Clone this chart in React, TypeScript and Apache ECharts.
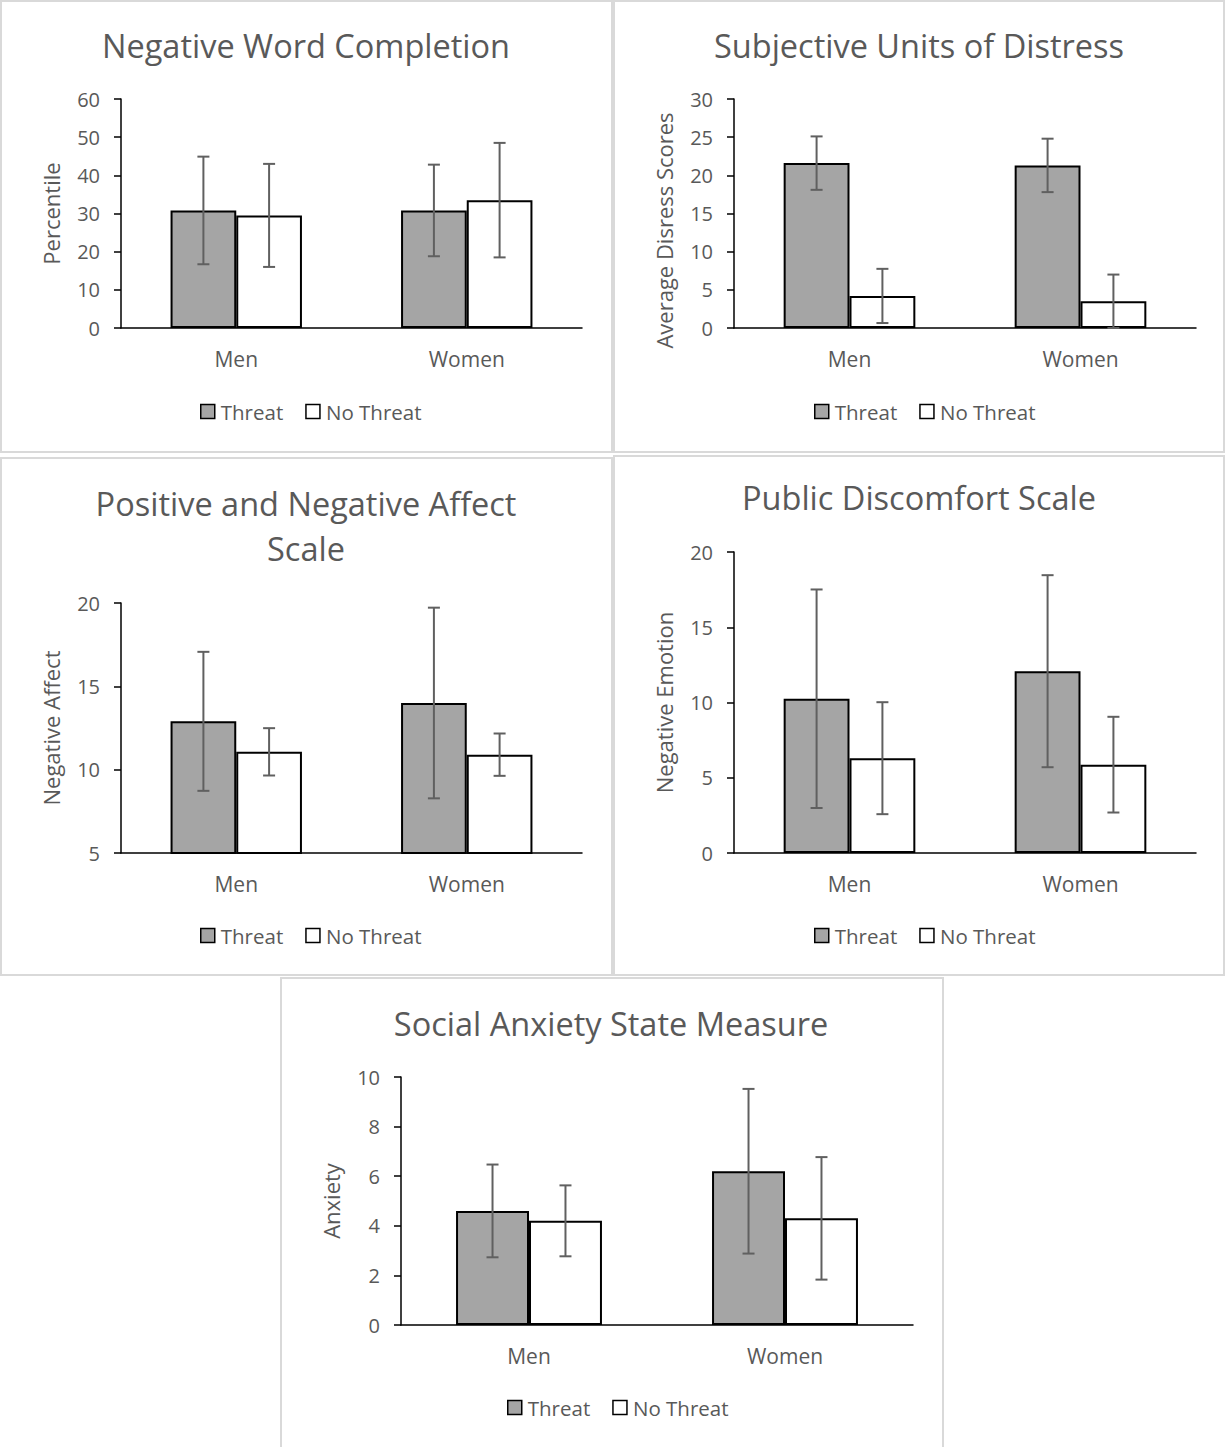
import React, { useEffect, useRef } from "react";
import * as echarts from "echarts";

// ---------- data ----------
const categories = ["Men", "Women"];
const seriesNames = ["Threat", "No Threat"];

const wordTitle = "Negative Word Completion";
const wordAxisName = "Percentile";
const wordThreat = [30.8, 30.8];
const wordThreatErr = [14.1, 12.0];
const wordNoThreat = [29.5, 33.5];
const wordNoThreatErr = [13.5, 15.0];
const wordTicks = { min: 0, max: 60, interval: 10 };

const sudsTitle = "Subjective Units of Distress";
const sudsAxisName = "Average Disress Scores";
const sudsThreat = [21.6, 21.3];
const sudsThreatErr = [3.5, 3.5];
const sudsNoThreat = [4.2, 3.5];
const sudsNoThreatErr = [3.55, 3.5];
const sudsTicks = { min: 0, max: 30, interval: 5 };

const panasTitle = "Positive and Negative Affect\nScale";
const panasAxisName = "Negative Affect";
const panasThreat = [12.9, 14.0];
const panasThreatErr = [4.17, 5.72];
const panasNoThreat = [11.07, 10.9];
const panasNoThreatErr = [1.42, 1.27];
const panasTicks = { min: 5, max: 20, interval: 5 };

const pdsTitle = "Public Discomfort Scale";
const pdsAxisName = "Negative Emotion";
const pdsThreat = [10.25, 12.08];
const pdsThreatErr = [7.26, 6.38];
const pdsNoThreat = [6.3, 5.87];
const pdsNoThreatErr = [3.72, 3.18];
const pdsTicks = { min: 0, max: 20, interval: 5 };

const sasmTitle = "Social Anxiety State Measure";
const sasmAxisName = "Anxiety";
const sasmThreat = [4.6, 6.2];
const sasmThreatErr = [1.87, 3.32];
const sasmNoThreat = [4.2, 4.3];
const sasmNoThreatErr = [1.43, 2.47];
const sasmTicks = { min: 0, max: 10, interval: 2 };

// ---------- layout / style ----------
const FONT = "Open Sans";
const TEXT = "#595959";
const THREAT_FILL = "#a5a5a5";
const NOTHREAT_FILL = "#ffffff";
const ERR_COLOR = "#606060";
const GAP = 0.43;

const panels = [
  {
    title: wordTitle, axisName: wordAxisName, ticks: wordTicks,
    threat: wordThreat, threatErr: wordThreatErr, noThreat: wordNoThreat, noThreatErr: wordNoThreatErr,
    box: [1, 1, 611, 451], titleX: 306, titleY: 45, namePad: [0, 0, 0, 0],
    grid: { left: 121, top: 99, width: 461, height: 229 }, legendLeft: 200, legendY: 413,
  },
  {
    title: sudsTitle, axisName: sudsAxisName, ticks: sudsTicks,
    threat: sudsThreat, threatErr: sudsThreatErr, noThreat: sudsNoThreat, noThreatErr: sudsNoThreatErr,
    box: [614, 1, 610, 451], titleX: 919, titleY: 45, namePad: [0, 34, 0, 0],
    grid: { left: 734, top: 99, width: 462, height: 229 }, legendLeft: 814, legendY: 413,
  },
  {
    title: panasTitle, axisName: panasAxisName, ticks: panasTicks,
    threat: panasThreat, threatErr: panasThreatErr, noThreat: panasNoThreat, noThreatErr: panasNoThreatErr,
    box: [1, 458, 611, 517], titleX: 306, titleY: 526, namePad: [0, 0, 0, 0],
    grid: { left: 121, top: 603, width: 461, height: 250 }, legendLeft: 200, legendY: 937,
  },
  {
    title: pdsTitle, axisName: pdsAxisName, ticks: pdsTicks,
    threat: pdsThreat, threatErr: pdsThreatErr, noThreat: pdsNoThreat, noThreatErr: pdsNoThreatErr,
    box: [614, 456, 610, 519], titleX: 919, titleY: 497, namePad: [0, 0, 0, 0],
    grid: { left: 734, top: 552, width: 462, height: 301 }, legendLeft: 814, legendY: 937,
  },
  {
    title: sasmTitle, axisName: sasmAxisName, ticks: sasmTicks,
    threat: sasmThreat, threatErr: sasmThreatErr, noThreat: sasmNoThreat, noThreatErr: sasmNoThreatErr,
    box: [281, 978, 662, 490], titleX: 611, titleY: 1023, namePad: [0, 0, 0, 0],
    grid: { left: 401, top: 1077, width: 512, height: 248 }, legendLeft: 507, legendY: 1409,
  },
];

function errorSeries(idx: number, means: number[], errs: number[], sign: number) {
  return {
    type: "custom",
    name: "err" + idx + "_" + sign,
    xAxisIndex: idx,
    yAxisIndex: idx,
    z: 10,
    silent: true,
    data: means.map((m, i) => [i, m - errs[i], m + errs[i]]),
    renderItem: (params: any, api: any) => {
      const cat = api.value(0);
      const lo = api.coord([cat, api.value(1)]);
      const hi = api.coord([cat, api.value(2)]);
      const band = api.size([1, 0])[0];
      const w = (band * (1 - GAP)) / 2;
      const x = lo[0] + (sign * w) / 2;
      const cap = 6;
      const style = { stroke: ERR_COLOR, lineWidth: 2, fill: "none" };
      return {
        type: "group",
        children: [
          { type: "line", shape: { x1: x, y1: lo[1], x2: x, y2: hi[1] }, style },
          { type: "line", shape: { x1: x - cap, y1: hi[1], x2: x + cap, y2: hi[1] }, style },
          { type: "line", shape: { x1: x - cap, y1: lo[1], x2: x + cap, y2: lo[1] }, style },
        ],
      };
    },
  };
}

function buildOption() {
  const grid: any[] = [];
  const xAxis: any[] = [];
  const yAxis: any[] = [];
  const series: any[] = [];
  const legend: any[] = [];
  const graphic: any[] = [];

  panels.forEach((p, i) => {
    graphic.push({
      type: "rect",
      shape: { x: p.box[0], y: p.box[1], width: p.box[2], height: p.box[3] },
      style: { fill: "#ffffff", stroke: "#d9d9d9", lineWidth: 2 },
      z: -10,
    });
    graphic.push({
      type: "text",
      x: p.titleX,
      y: p.titleY,
      z: 5,
      style: {
        text: p.title,
        fontFamily: FONT,
        fontSize: 32.5,
        lineHeight: 45,
        fill: TEXT,
        align: "center",
        verticalAlign: "middle",
      },
    });
    grid.push({ ...p.grid, containLabel: false });
    xAxis.push({
      type: "category",
      gridIndex: i,
      data: categories,
      axisLine: { show: true, lineStyle: { color: "#000", width: 1.5 } },
      axisTick: { show: false },
      axisLabel: { color: TEXT, fontSize: 21, fontFamily: FONT, margin: 20 },
      splitLine: { show: false },
    });
    yAxis.push({
      type: "value",
      gridIndex: i,
      min: p.ticks.min,
      max: p.ticks.max,
      interval: p.ticks.interval,
      name: p.axisName,
      nameLocation: "middle",
      nameRotate: 90,
      nameGap: 59,
      nameTextStyle: { color: TEXT, fontSize: 22, fontFamily: FONT, padding: p.namePad },
      axisLine: { show: true, lineStyle: { color: "#000", width: 1.5 } },
      axisTick: { show: true, length: 7, inside: false, lineStyle: { color: "#000", width: 1.5 } },
      axisLabel: { color: TEXT, fontSize: 20, fontFamily: FONT, margin: 21 },
      splitLine: { show: false },
    });
    series.push({
      type: "bar",
      name: seriesNames[0],
      xAxisIndex: i,
      yAxisIndex: i,
      data: p.threat,
      barGap: "0%",
      barCategoryGap: GAP * 100 + "%",
      itemStyle: { color: THREAT_FILL, borderColor: "#000", borderWidth: 2 },
    });
    series.push({
      type: "bar",
      name: seriesNames[1],
      xAxisIndex: i,
      yAxisIndex: i,
      data: p.noThreat,
      barGap: "0%",
      barCategoryGap: GAP * 100 + "%",
      itemStyle: { color: NOTHREAT_FILL, borderColor: "#000", borderWidth: 2 },
    });
    series.push(errorSeries(i, p.threat, p.threatErr, -1));
    series.push(errorSeries(i, p.noThreat, p.noThreatErr, 1));
    legend.push({
      left: p.legendLeft,
      top: p.legendY - 12,
      padding: 0,
      itemWidth: 14,
      itemHeight: 14,
      itemGap: 22,
      selectedMode: false,
      icon: "rect",
      textStyle: { color: TEXT, fontSize: 20.5, fontFamily: FONT, padding: [0, 0, 0, 1] },
      data: [
        { name: seriesNames[0], itemStyle: { color: THREAT_FILL, borderColor: "#000", borderWidth: 1.5 } },
        { name: seriesNames[1], itemStyle: { color: NOTHREAT_FILL, borderColor: "#000", borderWidth: 1.5 } },
      ],
    });
  });

  return {
    animation: false,
    backgroundColor: "#ffffff",
    textStyle: { fontFamily: FONT },
    grid,
    xAxis,
    yAxis,
    series,
    legend,
    graphic,
  };
}

export default function App() {
  const ref = useRef<HTMLDivElement>(null);
  useEffect(() => {
    document.body.style.margin = "0";
    if (!ref.current) return;
    const chart = echarts.init(ref.current, undefined, { renderer: "svg" });
    chart.setOption(buildOption() as any);
    return () => chart.dispose();
  }, []);
  return <div ref={ref} style={{ width: 1225, height: 1447 }} />;
}
